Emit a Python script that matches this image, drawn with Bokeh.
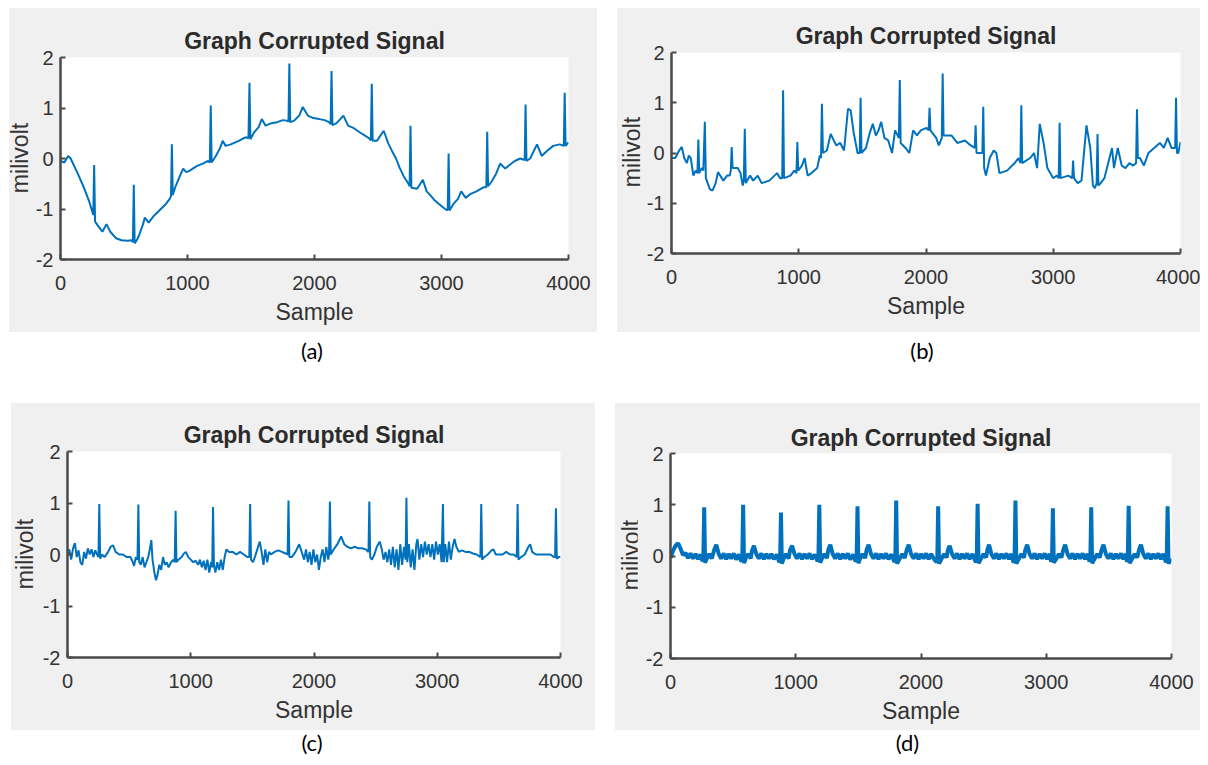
from bokeh.plotting import figure
from bokeh.models import Range1d, FixedTicker, Spacer, Div
from bokeh.layouts import row, column
from bokeh.embed import file_html
from bokeh.resources import INLINE

TITLE = "Graph Corrupted Signal"
X_LABEL = "Sample"
Y_LABEL = "milivolt"
CAPTIONS = ["(a)", "(b)", "(c)", "(d)"]
x_ticks = [0, 1000, 2000, 3000, 4000]
x_tick_labels = ["0", "1000", "2000", "3000", "4000"]
y_ticks = [-2, -1, 0, 1, 2]
y_tick_labels = ["-2", "-1", "0", "1", "2"]

# ---------------- panel (a) ----------------
a_samples = [0, 30, 60, 80, 136, 180, 226, 250, 258, 265, 272, 300, 330, 362, 392, 438, 480, 528, 560, 570,
             577, 584, 600, 619, 650, 664, 694, 730, 770, 830, 860, 870, 877, 884, 906, 940, 966, 990, 1011, 1072,
             1120, 1162, 1176, 1183, 1190, 1223, 1255, 1277, 1300, 1340, 1404, 1440, 1464, 1480, 1488, 1495, 1525, 1560, 1585, 1615,
             1660, 1706, 1750, 1781, 1795, 1802, 1809, 1840, 1880, 1908, 1947, 1990, 2038, 2080, 2113, 2127, 2134, 2141, 2174, 2228,
             2264, 2310, 2355, 2400, 2430, 2444, 2451, 2458, 2491, 2545, 2581, 2610, 2642, 2670, 2702, 2740, 2749, 2756, 2763, 2808,
             2853, 2883, 2910, 2943, 2980, 3004, 3040, 3049, 3056, 3063, 3094, 3130, 3155, 3191, 3230, 3275, 3330, 3353, 3360, 3367,
             3396, 3430, 3462, 3502, 3540, 3577, 3620, 3655, 3662, 3669, 3698, 3752, 3789, 3830, 3879, 3930, 3963, 3970, 3977, 4000]
a_values = [-0.05, -0.08, 0.05, 0.0, -0.3, -0.55, -0.85, -1.05, -1.12, -0.13, -1.25, -1.35, -1.45, -1.3, -1.45, -1.58, -1.62, -1.63, -1.62, -1.66,
            -0.52, -1.68, -1.62, -1.52, -1.3, -1.17, -1.27, -1.15, -1.05, -0.9, -0.8, -0.75, 0.28, -0.72, -0.55, -0.35, -0.2, -0.27, -0.25, -0.15,
            -0.1, -0.05, -0.08, 1.05, -0.08, 0.05, 0.2, 0.35, 0.25, 0.28, 0.35, 0.4, 0.42, 0.4, 1.5, 0.38, 0.52, 0.62, 0.78, 0.65,
            0.7, 0.72, 0.76, 0.75, 0.73, 1.88, 0.72, 0.75, 0.85, 1.02, 0.85, 0.8, 0.78, 0.76, 0.72, 0.68, 1.73, 0.66, 0.7, 0.85,
            0.65, 0.6, 0.52, 0.45, 0.4, 0.36, 1.48, 0.35, 0.35, 0.55, 0.3, 0.15, 0.0, -0.18, -0.35, -0.5, -0.55, 0.65, -0.58, -0.6,
            -0.42, -0.65, -0.72, -0.82, -0.9, -0.95, -1.02, -1.02, 0.1, -1.03, -0.9, -0.8, -0.65, -0.78, -0.7, -0.65, -0.57, -0.57, 0.53, -0.55,
            -0.45, -0.3, -0.1, -0.2, -0.12, -0.05, 0.0, -0.03, 1.07, -0.05, 0.0, 0.28, 0.05, 0.15, 0.25, 0.28, 0.25, 1.3, 0.25, 0.32]

# ---------------- panel (b) ----------------
b_samples = [0, 30, 60, 81, 100, 121, 136, 151, 172, 190, 204, 211, 218, 238, 250, 262, 270, 301, 322, 347,
             365, 383, 407, 437, 458, 466, 473, 480, 521, 542, 560, 568, 576, 584, 594, 618, 642, 678, 708, 769,
             829, 853, 870, 877, 884, 935, 965, 982, 989, 996, 1025, 1046, 1070, 1100, 1145, 1166, 1175, 1182, 1190, 1221,
             1251, 1275, 1296, 1326, 1356, 1387, 1408, 1432, 1462, 1479, 1486, 1493, 1528, 1558, 1582, 1606, 1627, 1648, 1673, 1703,
             1733, 1757, 1787, 1794, 1801, 1839, 1869, 1899, 1929, 1959, 2004, 2021, 2028, 2035, 2080, 2101, 2124, 2131, 2138, 2200,
             2246, 2306, 2351, 2383, 2390, 2397, 2411, 2443, 2450, 2457, 2471, 2501, 2532, 2553, 2577, 2637, 2697, 2727, 2742, 2749,
             2756, 2818, 2849, 2873, 2894, 2924, 2954, 2999, 3029, 3043, 3050, 3057, 3119, 3149, 3156, 3163, 3192, 3222, 3261, 3291,
             3312, 3327, 3341, 3348, 3355, 3372, 3402, 3432, 3462, 3477, 3507, 3538, 3568, 3598, 3628, 3651, 3658, 3665, 3682, 3712,
             3748, 3793, 3838, 3869, 3899, 3929, 3958, 3965, 3972, 3983, 4000]
b_values = [-0.1, -0.1, 0.05, 0.12, -0.1, -0.2, -0.05, -0.1, -0.45, -0.35, -0.4, 0.27, -0.4, -0.3, -0.35, 0.62, -0.5, -0.72, -0.75, -0.6,
            -0.38, -0.45, -0.55, -0.45, -0.45, -0.35, 0.12, -0.3, -0.3, -0.4, -0.65, -0.55, 0.48, -0.6, -0.55, -0.45, -0.55, -0.45, -0.6, -0.55,
            -0.4, -0.5, -0.5, 1.25, -0.5, -0.45, -0.35, -0.4, 0.22, -0.35, -0.25, -0.1, -0.45, -0.4, -0.3, -0.05, -0.1, 0.98, 0.0, 0.05,
            0.38, 0.25, 0.15, 0.2, 0.05, 0.88, 0.85, 0.4, 0.0, 0.0, 1.1, 0.0, 0.1, 0.4, 0.58, 0.35, 0.45, 0.62, 0.3, 0.25,
            0.0, 0.45, 0.3, 1.45, 0.2, 0.1, 0.0, 0.45, 0.35, 0.45, 0.5, 0.45, 0.9, 0.45, 0.3, 0.15, 0.3, 1.58, 0.35, 0.35,
            0.2, 0.25, 0.15, 0.1, 0.55, 0.0, 0.0, 0.0, 0.92, -0.3, -0.45, -0.1, 0.05, 0.0, -0.4, -0.35, -0.2, -0.1, -0.2, 0.95,
            -0.2, -0.1, 0.0, -0.3, 0.58, 0.2, -0.3, -0.5, -0.45, -0.5, 0.6, -0.5, -0.45, -0.5, -0.15, -0.5, -0.6, -0.55, 0.55, 0.1,
            -0.65, -0.7, -0.6, 0.38, -0.65, -0.6, -0.5, -0.2, 0.1, -0.3, 0.1, -0.25, -0.3, -0.2, -0.25, -0.2, 0.87, -0.1, -0.1, -0.25,
            0.0, 0.1, 0.2, 0.1, 0.3, 0.1, 0.1, 1.1, 0.0, 0.0, 0.22]

# ---------------- panel (c) ----------------
c_samples = [0, 15, 30, 45, 60, 75, 90, 105, 120, 135, 150, 165, 180, 195, 210, 225, 240, 251, 258, 265,
             280, 300, 330, 350, 370, 390, 420, 450, 480, 510, 525, 540, 555, 568, 575, 582, 595, 610, 625, 640,
             655, 668, 680, 690, 705, 718, 730, 745, 760, 775, 790, 805, 820, 840, 860, 870, 877, 884, 900, 925,
             945, 960, 980, 1000, 1020, 1040, 1060, 1075, 1090, 1105, 1120, 1135, 1150, 1165, 1174, 1181, 1188, 1200, 1215, 1230,
             1245, 1260, 1275, 1290, 1310, 1340, 1370, 1400, 1430, 1460, 1475, 1482, 1489, 1505, 1520, 1540, 1560, 1575, 1590, 1605,
             1620, 1635, 1650, 1680, 1710, 1740, 1770, 1786, 1793, 1800, 1820, 1850, 1880, 1900, 1920, 1935, 1950, 1965, 1980, 1995,
             2010, 2025, 2040, 2055, 2070, 2085, 2100, 2115, 2122, 2129, 2136, 2160, 2190, 2220, 2245, 2270, 2300, 2330, 2360, 2390,
             2420, 2442, 2449, 2456, 2470, 2490, 2510, 2533, 2550, 2565, 2580, 2595, 2610, 2625, 2640, 2655, 2670, 2685, 2700, 2715,
             2730, 2743, 2750, 2757, 2770, 2785, 2800, 2815, 2830, 2840, 2855, 2870, 2885, 2900, 2915, 2930, 2945, 2960, 2975, 2990,
             3005, 3020, 3035, 3046, 3053, 3065, 3080, 3095, 3110, 3125, 3140, 3155, 3175, 3200, 3230, 3260, 3290, 3320, 3350, 3357,
             3364, 3380, 3410, 3440, 3456, 3475, 3500, 3530, 3560, 3590, 3620, 3645, 3652, 3659, 3680, 3710, 3740, 3754, 3770, 3800,
             3830, 3860, 3890, 3920, 3945, 3956, 3963, 3970, 3985, 4000]
c_values = [0.0, 0.1, -0.1, 0.12, 0.22, -0.05, 0.08, -0.15, -0.2, 0.05, -0.08, 0.12, 0.0, 0.1, -0.05, 0.08, 0.0, -0.05, 0.98, -0.08,
            0.0, -0.05, 0.05, 0.15, 0.18, 0.05, 0.0, 0.0, -0.05, -0.05, -0.12, -0.22, -0.05, -0.1, 0.97, -0.15, -0.2, -0.05, -0.25, -0.15,
            -0.05, 0.1, 0.28, -0.1, -0.35, -0.5, -0.4, -0.2, -0.3, -0.05, -0.2, -0.15, -0.25, -0.15, -0.1, -0.15, 0.85, -0.15, -0.1, -0.05,
            0.02, 0.05, -0.05, -0.1, -0.15, -0.12, -0.2, -0.1, -0.25, -0.12, -0.3, -0.1, -0.35, -0.15, -0.25, 0.92, -0.2, -0.35, -0.15, -0.3,
            -0.1, -0.3, -0.05, 0.1, 0.05, 0.05, 0.0, 0.05, 0.0, -0.05, -0.05, 0.98, -0.1, -0.15, -0.05, 0.1, 0.25, 0.05, -0.2, 0.1,
            -0.15, 0.05, 0.0, 0.05, 0.08, 0.05, 0.02, 0.0, 1.05, -0.05, -0.05, 0.05, 0.2, 0.05, -0.1, 0.1, -0.15, 0.05, -0.2, 0.1,
            -0.15, 0.0, -0.3, -0.05, 0.1, -0.15, 0.15, -0.1, 0.0, 1.03, 0.0, 0.1, 0.2, 0.35, 0.2, 0.15, 0.12, 0.15, 0.12, 0.12,
            0.1, 0.05, 1.03, -0.05, -0.1, 0.0, 0.15, 0.25, 0.1, -0.1, 0.05, -0.15, 0.1, -0.2, 0.15, -0.25, 0.1, -0.3, 0.2, -0.2,
            0.15, -0.1, 1.1, -0.15, 0.2, -0.25, 0.1, -0.3, 0.2, 0.3, -0.1, 0.2, -0.05, 0.25, 0.0, 0.2, -0.05, 0.2, -0.1, 0.25,
            0.0, 0.2, -0.15, 0.98, -0.15, 0.2, -0.15, 0.25, -0.1, 0.15, 0.3, 0.15, 0.05, 0.08, 0.05, 0.05, 0.02, 0.0, -0.05, 0.98,
            -0.1, -0.05, 0.0, 0.08, 0.1, 0.0, 0.0, 0.0, 0.05, 0.0, 0.0, -0.05, 0.98, -0.1, -0.05, 0.0, 0.15, 0.2, 0.05, 0.0,
            0.0, 0.0, 0.0, 0.0, -0.05, -0.05, 0.9, -0.08, -0.05, -0.05]

# ---------------- panel (d) ----------------
d_samples = [0, 20, 40, 61, 80, 100, 120, 140, 160, 180, 200, 220, 240, 255, 262, 269, 276,
             290, 310, 330, 349, 366, 385, 405, 425, 445, 465, 485, 505, 525, 545, 566, 573, 580, 587,
             601, 621, 641, 650, 666, 685, 705, 725, 745, 765, 785, 805, 825, 848, 868, 875, 882, 889,
             903, 923, 943, 955, 971, 990, 1010, 1030, 1050, 1070, 1090, 1110, 1130, 1152, 1174, 1181, 1188, 1195,
             1209, 1229, 1249, 1260, 1276, 1295, 1315, 1335, 1355, 1375, 1395, 1415, 1435, 1457, 1479, 1486, 1493, 1500,
             1514, 1534, 1554, 1566, 1582, 1601, 1621, 1641, 1661, 1681, 1701, 1721, 1741, 1765, 1788, 1795, 1802, 1809,
             1830, 1850, 1870, 1886, 1902, 1921, 1941, 1961, 1981, 2001, 2021, 2041, 2061, 2081, 2101, 2123, 2130, 2137, 2144,
             2165, 2185, 2205, 2215, 2229, 2248, 2268, 2288, 2308, 2328, 2348, 2368, 2388, 2410, 2438, 2445, 2452, 2459,
             2480, 2500, 2520, 2530, 2543, 2562, 2582, 2602, 2622, 2642, 2662, 2682, 2702, 2722, 2740, 2747, 2754, 2761,
             2782, 2802, 2822, 2833, 2848, 2867, 2887, 2907, 2927, 2947, 2967, 2987, 3007, 3027, 3039, 3046, 3053, 3060,
             3081, 3101, 3121, 3136, 3151, 3170, 3190, 3210, 3230, 3250, 3270, 3290, 3310, 3330, 3345, 3352, 3359, 3366,
             3387, 3407, 3427, 3442, 3457, 3476, 3496, 3516, 3536, 3556, 3576, 3596, 3616, 3636, 3644, 3651, 3658, 3665,
             3686, 3706, 3726, 3741, 3756, 3775, 3795, 3815, 3835, 3855, 3875, 3895, 3915, 3935, 3955, 3962, 3969, 3976, 3990, 4000]
d_values = [-0.04, 0.1, 0.2, 0.25, 0.14, 0.02, 0.06, -0.04, 0.05, -0.05, 0.04, -0.06, 0.03, -0.1, -0.07, 0.95, -0.13,
            -0.05, 0.04, -0.05, 0.12, 0.22, 0.04, -0.05, 0.05, -0.06, 0.04, -0.05, 0.05, -0.07, 0.03, -0.11, -0.07, 1.0, -0.14,
            -0.04, 0.04, -0.05, 0.1, 0.2, 0.04, -0.05, 0.05, -0.06, 0.04, -0.05, 0.04, -0.06, 0.03, -0.12, -0.08, 0.85, -0.15,
            -0.05, 0.04, -0.05, 0.12, 0.2, 0.04, -0.05, 0.05, -0.06, 0.04, -0.05, 0.05, -0.06, 0.03, -0.1, -0.07, 1.0, -0.13,
            -0.05, 0.04, -0.04, 0.12, 0.22, 0.04, -0.05, 0.05, -0.06, 0.04, -0.05, 0.05, -0.07, 0.03, -0.11, -0.07, 0.97, -0.14,
            -0.05, 0.04, -0.04, 0.12, 0.22, 0.04, -0.05, 0.05, -0.06, 0.04, -0.05, 0.05, -0.06, 0.03, -0.12, -0.08, 1.08, -0.15,
            -0.05, 0.04, -0.04, 0.12, 0.22, 0.04, -0.05, 0.05, -0.06, 0.04, -0.05, 0.05, -0.06, 0.04, -0.05, -0.12, -0.08, 0.97, -0.15,
            -0.05, 0.04, -0.03, 0.12, 0.2, 0.04, -0.05, 0.05, -0.06, 0.04, -0.05, 0.05, -0.06, 0.04, -0.12, -0.08, 1.02, -0.14,
            -0.05, 0.04, -0.03, 0.12, 0.22, 0.04, -0.05, 0.05, -0.06, 0.04, -0.05, 0.05, -0.06, 0.04, -0.13, -0.08, 1.08, -0.15,
            -0.05, 0.04, -0.03, 0.12, 0.22, 0.04, -0.05, 0.05, -0.06, 0.04, -0.05, 0.05, -0.06, 0.04, -0.11, -0.07, 0.93, -0.13,
            -0.05, 0.04, -0.03, 0.12, 0.22, 0.04, -0.05, 0.05, -0.06, 0.04, -0.05, 0.05, -0.06, 0.04, -0.11, -0.07, 0.95, -0.14,
            -0.05, 0.04, -0.03, 0.12, 0.22, 0.04, -0.05, 0.05, -0.06, 0.04, -0.05, 0.05, -0.06, 0.04, -0.11, -0.07, 0.98, -0.14,
            -0.05, 0.04, -0.03, 0.12, 0.22, 0.04, -0.05, 0.05, -0.06, 0.04, -0.05, 0.05, -0.06, 0.04, -0.12, -0.08, 0.97, -0.15, -0.08, -0.1]

FONT = "Liberation Sans"
LINE_COLOR = "#0072bd"
AXIS_COLOR = "#4a4a4a"
TEXT_COLOR = "#333333"
PANEL_BG = "#f0f0f0"


def make_panel(xs, ys, width, height, ml, mr, mt, mb, lw, title_gap):
    p = figure(width=width, height=height, x_range=Range1d(0, 4000), y_range=Range1d(-2, 2),
               output_backend="svg", toolbar_location=None,
               min_border_left=ml, min_border_right=mr, min_border_top=mt, min_border_bottom=mb,
               background_fill_color="white", border_fill_color=PANEL_BG, outline_line_color=None,
               title=TITLE)
    p.line(xs, ys, line_color=LINE_COLOR, line_width=lw)
    p.title.align = "center"
    p.title.text_font = FONT
    p.title.text_font_size = "23px"
    p.title.text_font_style = "bold"
    p.title.text_color = "#2b2b2b"
    p.title.standoff = title_gap
    p.xgrid.visible = False
    p.ygrid.visible = False
    p.xaxis.ticker = FixedTicker(ticks=x_ticks)
    p.yaxis.ticker = FixedTicker(ticks=y_ticks)
    p.xaxis.major_label_overrides = dict(zip(x_ticks, x_tick_labels))
    p.yaxis.major_label_overrides = dict(zip(y_ticks, y_tick_labels))
    p.xaxis.axis_label = X_LABEL
    for ax in (p.xaxis[0], p.yaxis[0]):
        ax.axis_line_color = AXIS_COLOR
        ax.axis_line_width = 2.5
        ax.major_tick_line_color = AXIS_COLOR
        ax.major_tick_line_width = 2
        ax.major_tick_in = 5
        ax.major_tick_out = 0
        ax.minor_tick_line_color = None
        ax.major_label_text_font = FONT
        ax.major_label_text_font_size = "20px"
        ax.major_label_text_color = TEXT_COLOR
        ax.axis_label_text_font = FONT
        ax.axis_label_text_font_size = "23px"
        ax.axis_label_text_font_style = "normal"
        ax.axis_label_text_color = TEXT_COLOR
    p.xaxis.major_label_standoff = 16
    p.xaxis.axis_label_standoff = 6
    p.yaxis.major_label_standoff = 7
    return p


def ylabel_div(width, height, cx, cy):
    # vertical "milivolt" axis title on the panel background, centred at (cx, cy)
    html = ('<div style="position:relative;width:%dpx;height:%dpx;background:%s;overflow:visible;">'
            '<span style="position:absolute;left:%dpx;top:%dpx;transform:translate(-50%%,-50%%) rotate(-90deg);'
            'white-space:nowrap;font-family:\'Liberation Sans\';font-size:23px;line-height:1;color:%s;">%s</span></div>'
            % (width, height, PANEL_BG, cx, cy, TEXT_COLOR, Y_LABEL))
    return Div(text=html, width=width, height=height, margin=(0, 0, 0, 0),
               styles={"background-color": PANEL_BG})


def caption(text, width, height, shift):
    html = ('<div style="width:%dpx;height:%dpx;line-height:%dpx;text-align:center;'
            'padding-left:%dpx;box-sizing:border-box;font-family:Lato, Carlito, sans-serif;'
            'font-size:22px;color:#000;">%s</div>' % (width, height, height, shift, text))
    return Div(text=html, width=width, height=height, margin=(0, 0, 0, 0))


def panel(label_w, fig, fig_h, cx, cy, cap):
    body = row(ylabel_div(label_w, fig_h, cx, cy), fig, styles={"background-color": PANEL_BG})
    return column(body, cap)


pa = make_panel(a_samples, a_values, 568, 324, 31, 29, 49, 73, 2.0, 7)
pb = make_panel(b_samples, b_values, 560, 324, 31, 20, 44, 79, 2.0, 7)
pc = make_panel(c_samples, c_values, 562, 327, 34, 35, 48, 73, 2.0, 7)
pd = make_panel(d_samples, d_values, 563, 327, 33, 29, 50, 72, 4.0, 6)

panel_a = panel(20, pa, 324, 11, 150, caption(CAPTIONS[0], 588, 38, 18))
panel_b = panel(23, pb, 324, 15, 144, caption(CAPTIONS[1], 583, 38, 27))
panel_c = panel(22, pc, 327, 14, 151, caption(CAPTIONS[2], 584, 25, 18))
panel_d = panel(22, pd, 327, 16, 152, caption(CAPTIONS[3], 585, 25, 0))

top = row(Spacer(width=9, height=362), panel_a, Spacer(width=20, height=362), panel_b)
bottom = row(Spacer(width=11, height=352), panel_c, Spacer(width=20, height=352), panel_d)
layout = column(Spacer(width=1200, height=8), top, Spacer(width=1200, height=33), bottom)

open("out.html", "w").write(file_html(layout, INLINE))
